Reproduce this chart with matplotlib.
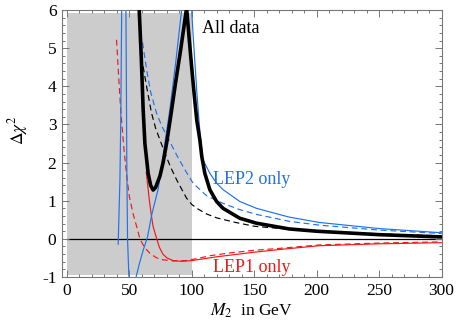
import numpy as np
import matplotlib
matplotlib.use("Agg")
import matplotlib.pyplot as plt
from matplotlib.patches import Rectangle
from matplotlib.ticker import MultipleLocator

plt.rcParams['font.family'] = ['Liberation Serif', 'DejaVu Serif']
plt.rcParams['mathtext.fontset'] = 'stix'
plt.rcParams['axes.unicode_minus'] = False

# ---- data ----
# All data, thick black solid
all_x = [57.3, 57.8, 59.5, 61.0, 62.4, 65.0, 67.0, 69.0, 71.0, 74.4, 77.0, 79.8, 83.0,
         87.0, 91.0, 95.8, 98.0, 100.0, 102.0, 104.0, 106.4, 108.0, 110.4, 114.4, 119.8,
         125.0, 138.4, 151.8, 178.0, 200.0, 250.0, 300.0]
all_y = [6.3, 6.05, 4.75, 3.4, 2.5, 1.72, 1.4, 1.28, 1.35, 1.64, 2.0, 2.51, 3.2,
         4.1, 4.95, 6.05, 5.2, 4.45, 3.75, 3.1, 2.6, 2.15, 1.72, 1.29, 0.98,
         0.8, 0.54, 0.41, 0.26, 0.2, 0.11, 0.05]

# All data, black dashed
alld_x = [61.0, 64.0, 67.7, 71.0, 74.4, 78.4, 83.0, 87.8, 95.7, 100.0, 105.0, 112.0,
          120.0, 135.0, 150.0, 175.0, 200.0, 250.0, 300.0]
alld_y = [4.52, 3.95, 3.3, 2.9, 2.6, 2.25, 1.88, 1.55, 1.07, 0.9, 0.78, 0.65,
          0.55, 0.43, 0.33, 0.26, 0.21, 0.13, 0.08]

# LEP2 only, blue solid (three branches)
lep2a_x = [41.0, 41.7, 42.4, 43.1, 43.8, 43.9]
lep2a_y = [-0.14, 0.7, 1.55, 3.2, 6.0, 6.3]
lep2b_x = [47.1, 47.2, 47.6, 47.9, 48.5, 49.6, 49.7]
lep2b_y = [6.3, 6.0, 4.0, 2.0, 0.0, -1.0, -1.1]
lep2c_x = [55.0, 55.2, 58.0, 61.0, 64.5, 68.0, 73.0, 77.5, 82.4, 87.0, 91.8, 92.0,
           99.5, 99.7, 101.0, 102.5, 104.0, 105.6, 107.0, 109.0, 114.4, 119.8, 125.0,
           138.4, 151.8, 178.0, 202.0, 250.0, 300.0]
lep2c_y = [-1.1, -1.02, -0.65, -0.3, 0.05, 0.65, 1.3, 2.3, 3.39, 4.6, 6.0, 6.3,
           6.3, 6.1, 5.35, 4.6, 3.85, 3.15, 2.6, 2.07, 1.72, 1.46, 1.29,
           0.98, 0.8, 0.57, 0.43, 0.27, 0.16]

# LEP2 only, blue dashed
lep2d_x = [60.5, 63.7, 67.0, 71.7, 76.0, 80.0, 87.8, 95.0, 101.0, 111.8, 125.0,
           138.0, 151.8, 178.0, 202.0, 250.0, 300.0]
lep2d_y = [5.15, 4.45, 3.85, 3.3, 2.95, 2.7, 2.2, 1.78, 1.46, 1.13, 0.93,
           0.77, 0.64, 0.46, 0.36, 0.23, 0.14]

# LEP1 only, red solid
lep1_x = [63.5, 64.8, 66.0, 67.7, 69.0, 71.8, 74.0, 76.8, 80.0, 85.0, 92.0, 100.0,
          110.0, 120.0, 130.0, 150.0, 170.0, 202.0, 250.0, 300.0]
lep1_y = [1.75, 1.36, 1.0, 0.59, 0.32, 0.01, -0.22, -0.4, -0.5, -0.57, -0.59, -0.57,
          -0.52, -0.47, -0.43, -0.35, -0.28, -0.18, -0.13, -0.1]

# LEP1 only, red dashed
lep1d_x = [39.7, 41.3, 43.0, 45.5, 48.0, 50.0, 53.0, 56.0, 58.4, 62.0, 66.4, 71.8,
           77.0, 85.0, 95.0, 103.7, 115.0, 130.0, 150.0, 170.0, 202.0, 250.0, 300.0]
lep1d_y = [5.22, 4.3, 3.39, 2.4, 1.6, 1.1, 0.65, 0.3, 0.0, -0.22, -0.38, -0.5,
           -0.55, -0.58, -0.57, -0.52, -0.44, -0.37, -0.3, -0.25, -0.16, -0.11, -0.08]

excluded = (0, 100)          # grey band in M2
band_y = (-0.95, 5.92)

blue = '#1f72ee'
red = '#f01818'

fig = plt.figure(figsize=(4.64, 3.28), dpi=100)
ax = fig.add_axes([0.1336, 0.1555, 0.818, 0.814])

ax.add_patch(Rectangle((excluded[0], band_y[0]), excluded[1] - excluded[0],
                       band_y[1] - band_y[0], facecolor='#cccccc', edgecolor='none', zorder=0))
ax.plot([0, 300], [0, 0], color='black', lw=0.9, zorder=1)

dash = (0, (5, 3.2))
ax.plot(lep1d_x, lep1d_y, color=red, lw=0.85, linestyle=dash, zorder=2)
ax.plot(lep1_x, lep1_y, color=red, lw=0.85, zorder=2)
ax.plot(lep2d_x, lep2d_y, color=blue, lw=0.85, linestyle=dash, zorder=2)
ax.plot(alld_x, alld_y, color='black', lw=0.85, linestyle=dash, zorder=3)
ax.plot(lep2a_x, lep2a_y, color=blue, lw=0.85, zorder=2)
ax.plot(lep2b_x, lep2b_y, color=blue, lw=0.85, zorder=2)
ax.plot(lep2c_x, lep2c_y, color=blue, lw=0.85, zorder=2)
ax.plot(all_x, all_y, color='black', lw=2.6, zorder=4, solid_joinstyle='round')

ax.text(108, 5.52, 'All data', fontsize=13, color='black', va='center', ha='left')
ax.text(117, 1.55, 'LEP2 only', fontsize=13, color=blue, va='center', ha='left')
ax.text(117, -0.76, 'LEP1 only', fontsize=13, color=red, va='center', ha='left')

ax.set_xlim(-4, 300)
ax.set_ylim(-1, 6)
ax.xaxis.set_major_locator(MultipleLocator(50))
ax.xaxis.set_minor_locator(MultipleLocator(10))
ax.yaxis.set_major_locator(MultipleLocator(1))
ax.yaxis.set_minor_locator(MultipleLocator(0.2))
ax.tick_params(which='both', direction='in', top=True, right=True, color='#777777',
               labelsize=12.5, width=0.7)
ax.tick_params(which='major', length=5, pad=4)
ax.tick_params(which='minor', length=2.5)
for s in ax.spines.values():
    s.set_color('#777777')
    s.set_linewidth(0.8)

ax.set_xlabel(r'$M_2$  in GeV', fontsize=12.5, labelpad=2)
ax.set_ylabel(r'$\Delta\chi^2$', fontsize=12.5)
ax.yaxis.set_label_coords(-0.085, 0.55)

fig.savefig('out.png', dpi=100)
